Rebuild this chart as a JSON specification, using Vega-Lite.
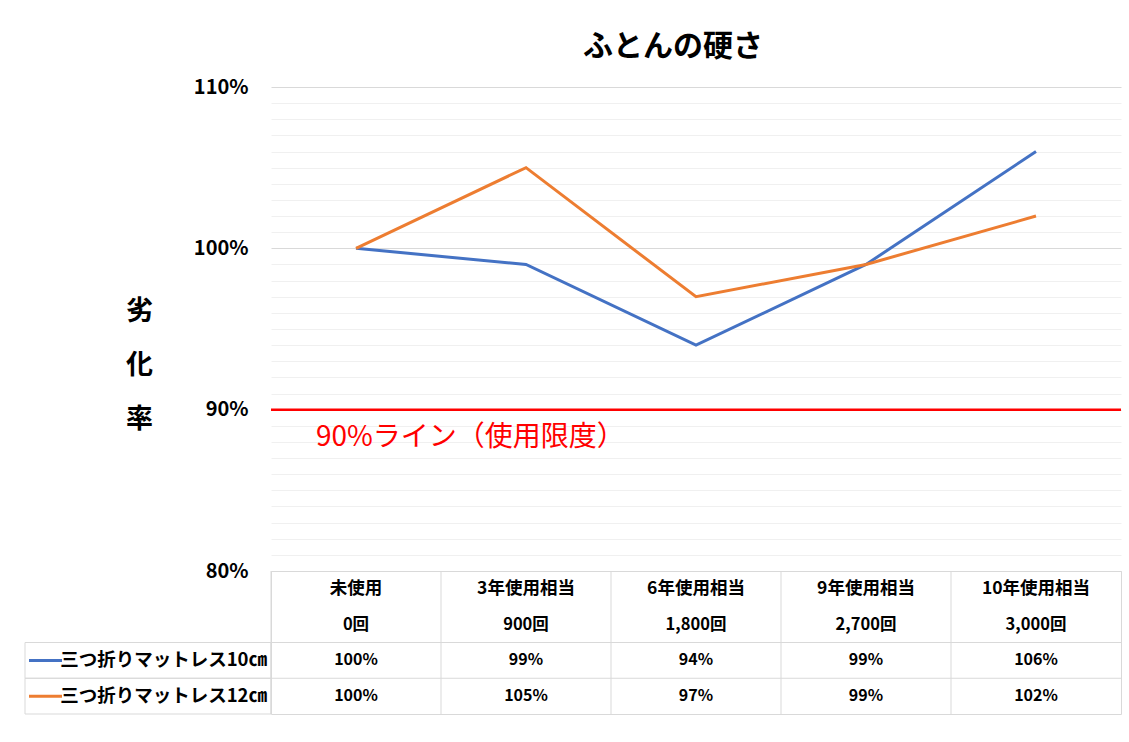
{
  "$schema": "https://vega.github.io/schema/vega-lite/v6.json",
  "padding": {"left": 24, "top": 32, "right": 9, "bottom": 20},
  "background": "white",
  "config": {
    "font": "Noto Sans CJK JP",
    "view": {"stroke": null}
  },
  "datasets": {
    "points": [
      {"cat": "未使用", "series": "三つ折りマットレス10㎝", "value": 1.00},
      {"cat": "3年使用相当", "series": "三つ折りマットレス10㎝", "value": 0.99},
      {"cat": "6年使用相当", "series": "三つ折りマットレス10㎝", "value": 0.94},
      {"cat": "9年使用相当", "series": "三つ折りマットレス10㎝", "value": 0.99},
      {"cat": "10年使用相当", "series": "三つ折りマットレス10㎝", "value": 1.06},
      {"cat": "未使用", "series": "三つ折りマットレス12㎝", "value": 1.00},
      {"cat": "3年使用相当", "series": "三つ折りマットレス12㎝", "value": 1.05},
      {"cat": "6年使用相当", "series": "三つ折りマットレス12㎝", "value": 0.97},
      {"cat": "9年使用相当", "series": "三つ折りマットレス12㎝", "value": 0.99},
      {"cat": "10年使用相当", "series": "三つ折りマットレス12㎝", "value": 1.02}
    ],
    "cats": [
      {"cat": "未使用", "cnt": "0回"},
      {"cat": "3年使用相当", "cnt": "900回"},
      {"cat": "6年使用相当", "cnt": "1,800回"},
      {"cat": "9年使用相当", "cnt": "2,700回"},
      {"cat": "10年使用相当", "cnt": "3,000回"}
    ],
    "series": [
      {"series": "三つ折りマットレス10㎝"},
      {"series": "三つ折りマットレス12㎝"}
    ]
  },
  "columns": 2,
  "spacing": 0,
  "bounds": "flush",
  "align": "each",
  "resolve": {"scale": {"x": "independent", "y": "independent"}},
  "concat": [
    {
      "width": 246,
      "height": 484,
      "data": {"values": []},
      "mark": "point"
    },
    {
      "width": 850,
      "height": 484,
      "title": {"text": "ふとんの硬さ", "fontSize": 30, "fontWeight": "bold", "color": "#000000", "anchor": "middle", "dx": -23, "offset": 15},
      "layer": [
        {
          "data": {"name": "points"},
          "mark": {"type": "line", "strokeWidth": 3},
          "encoding": {
            "x": {"field": "cat", "type": "nominal", "sort": null, "scale": {"type": "point", "padding": 0.5, "domain": ["未使用", "3年使用相当", "6年使用相当", "9年使用相当", "10年使用相当"]}, "axis": null},
            "y": {
              "field": "value", "type": "quantitative",
              "scale": {"domain": [0.8, 1.1], "nice": false, "zero": false},
              "axis": {
                "values": [0.80, 0.81, 0.82, 0.83, 0.84, 0.85, 0.86, 0.87, 0.88, 0.89, 0.90, 0.91, 0.92, 0.93, 0.94, 0.95, 0.96, 0.97, 0.98, 0.99, 1.00, 1.01, 1.02, 1.03, 1.04, 1.05, 1.06, 1.07, 1.08, 1.09, 1.10],
                "tickCount": 60,
                "format": ".0%",
                "labelExpr": "round(datum.value*100) % 10 === 0 ? datum.label : ''",
                "labelOverlap": false,
                "labelFlush": false,
                "labelBound": false,
                "grid": true,
                "gridColor": {"condition": {"test": "round(datum.value*100) % 10 === 0", "value": "#d9d9d9"}, "value": "#f0f0f0"},
                "gridWidth": 1,
                "ticks": false,
                "domain": false,
                "labelFontSize": 20,
                "labelFontWeight": "bold",
                "labelColor": "#000000",
                "labelPadding": 23,
                "title": ["劣", "化", "率"],
                "titleAngle": 0,
                "titleX": -132,
                "titleY": 224,
                "titleAlign": "center",
                "titleBaseline": "middle",
                "titleFontSize": 27,
                "titleFontWeight": "bold",
                "titleColor": "#000000",
                "titleLineHeight": 54
              }
            },
            "color": {"field": "series", "type": "nominal", "scale": {"domain": ["三つ折りマットレス10㎝", "三つ折りマットレス12㎝"], "range": ["#4472C4", "#ED7D31"]}, "legend": null}
          }
        },
        {
          "data": {"values": [{}]},
          "mark": {"type": "rule", "color": "#FF0000", "strokeWidth": 2.5},
          "encoding": {"y": {"datum": 0.9, "type": "quantitative"}}
        },
        {
          "data": {"values": [{}]},
          "mark": {"type": "text", "text": "90%ライン（使用限度）", "color": "#FF0000", "fontSize": 28, "align": "left", "baseline": "middle", "dx": -40, "dy": 28},
          "encoding": {"x": {"datum": "未使用"}, "y": {"datum": 0.9, "type": "quantitative"}}
        }
      ]
    },
    {
      "width": 246,
      "height": 143,
      "data": {"name": "series"},
      "layer": [
        {
          "mark": {"type": "rect", "filled": false, "color": "#d9d9d9", "strokeWidth": 1},
          "encoding": {
            "x": {"value": 0},
            "x2": {"value": "width"},
            "y": {"field": "series", "type": "nominal", "scale": {"domain": ["h1", "h2", "三つ折りマットレス10㎝", "三つ折りマットレス12㎝"], "paddingInner": 0, "paddingOuter": 0}, "axis": null}
          }
        },
        {
          "mark": {"type": "rule", "strokeWidth": 3},
          "encoding": {
            "x": {"value": 4},
            "x2": {"value": 37},
            "y": {"field": "series", "type": "nominal", "bandPosition": 0.5},
            "color": {"field": "series", "type": "nominal", "legend": null}
          }
        },
        {
          "mark": {"type": "text", "align": "right", "baseline": "middle", "dx": -4, "fontSize": 18.5, "fontWeight": "bold", "color": "#000000"},
          "encoding": {
            "x": {"value": "width"},
            "y": {"field": "series", "type": "nominal"},
            "text": {"field": "series"}
          }
        }
      ]
    },
    {
      "width": 850,
      "height": 143,
      "view": {"stroke": "#d9d9d9"},
      "layer": [
        {
          "data": {"name": "cats"},
          "mark": {"type": "rule", "color": "#d9d9d9", "strokeWidth": 1},
          "encoding": {
            "x": {"field": "cat", "type": "nominal", "bandPosition": 0, "sort": null, "scale": {"type": "band", "domain": ["未使用", "3年使用相当", "6年使用相当", "9年使用相当", "10年使用相当"], "paddingInner": 0, "paddingOuter": 0}, "axis": null}
          }
        },
        {
          "data": {"name": "series"},
          "mark": {"type": "rule", "color": "#d9d9d9", "strokeWidth": 1},
          "encoding": {
            "y": {"field": "series", "type": "nominal", "bandPosition": 0, "scale": {"domain": ["h1", "h2", "三つ折りマットレス10㎝", "三つ折りマットレス12㎝"], "paddingInner": 0, "paddingOuter": 0}, "axis": null}
          }
        },
        {
          "data": {"name": "cats"},
          "mark": {"type": "text", "fontSize": 17.5, "fontWeight": "bold", "color": "#000000", "baseline": "middle"},
          "encoding": {
            "x": {"field": "cat", "type": "nominal"},
            "y": {"datum": "h1"},
            "text": {"field": "cat"}
          }
        },
        {
          "data": {"name": "cats"},
          "mark": {"type": "text", "fontSize": 16.5, "fontWeight": "bold", "color": "#000000", "baseline": "middle"},
          "encoding": {
            "x": {"field": "cat", "type": "nominal"},
            "y": {"datum": "h2"},
            "text": {"field": "cnt"}
          }
        },
        {
          "data": {"name": "points"},
          "mark": {"type": "text", "fontSize": 16, "fontWeight": "bold", "color": "#000000", "baseline": "middle"},
          "encoding": {
            "x": {"field": "cat", "type": "nominal"},
            "y": {"field": "series", "type": "nominal"},
            "text": {"field": "value", "type": "quantitative", "format": ".0%"}
          }
        }
      ]
    }
  ]
}
